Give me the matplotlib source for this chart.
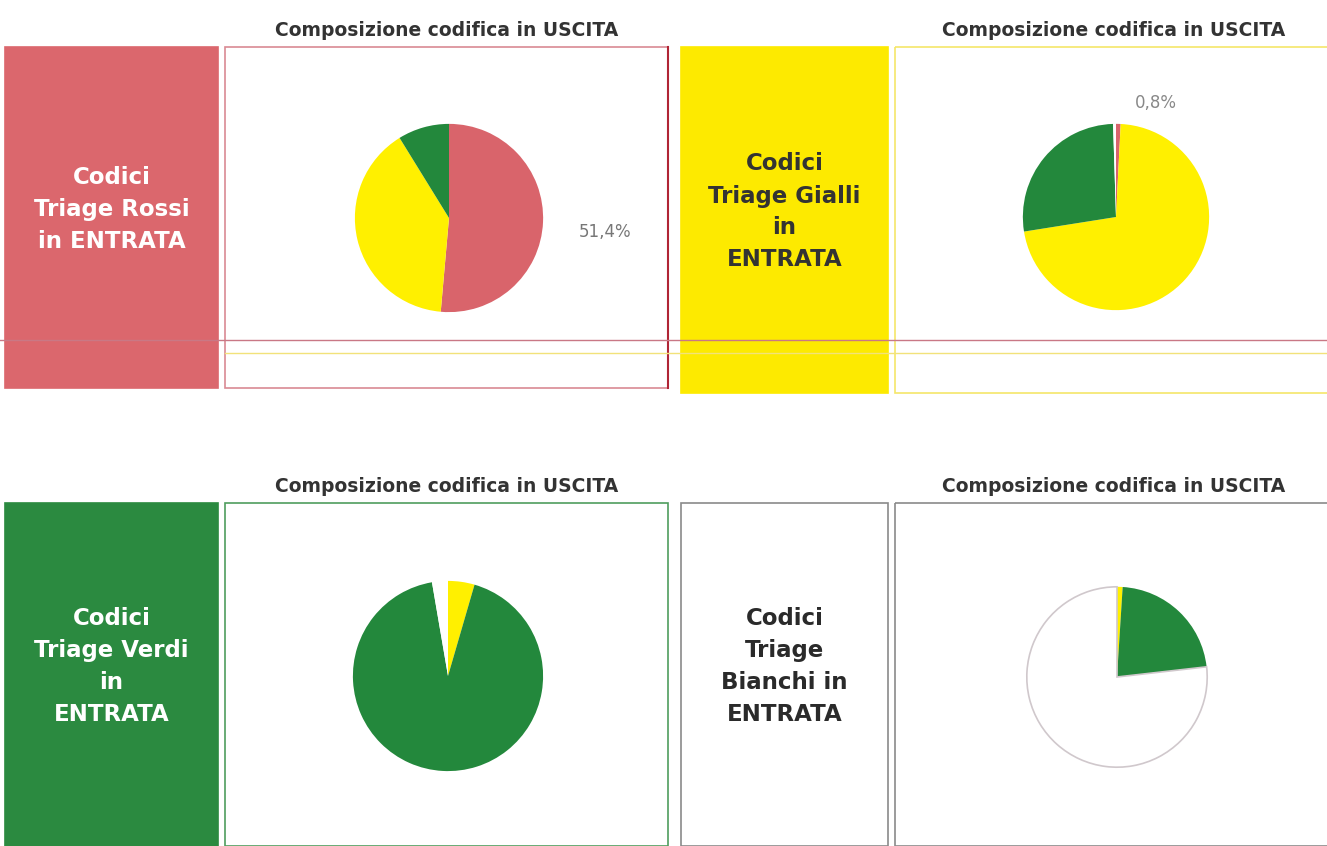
#Composizione codifica in USCITA per codice triage in ENTRATA
#4 pannelli: riquadro colorato + torta

import matplotlib.pyplot as plt
from matplotlib.patches import Rectangle

#dati (quote % in uscita: rosso, giallo, verde, bianco)
labels_uscita = ['Rosso', 'Giallo', 'Verde', 'Bianco']
rossi = [51.4, 39.8, 8.8, 0.0]
gialli = [0.8, 71.7, 27.0, 0.5]
verdi = [0.0, 4.5, 92.8, 2.7]
bianchi = [0.0, 1.0, 22.2, 76.8]

entrata = ['Codici\nTriage Rossi\nin ENTRATA',
           'Codici\nTriage Gialli\nin\nENTRATA',
           'Codici\nTriage Verdi\nin\nENTRATA',
           'Codici\nTriage\nBianchi in\nENTRATA']
titolo = 'Composizione codifica in USCITA'

#colori
c_rosso = '#db676d'
c_giallo = '#fdea00'
c_verde = '#2b8a40'
c_bianco = '#ffffff'
pie_colors = ['#d9646b', '#fff000', '#23883c', '#ffffff']

W, H = 1327, 846
fig = plt.figure(figsize=(W / 100, H / 100), dpi=100)
bg = fig.add_axes([0, 0, 1, 1])
bg.set_xlim(0, W)
bg.set_ylim(H, 0)
bg.axis('off')

#pannelli: (x box, y, w, h, colore box, colore testo, bordo torta, centro torta, raggio)
pannelli = [
    (5, 47, 213, 341, c_rosso, 'white', '#d98a94', (449, 218), 96),
    (681, 47, 207, 346, c_giallo, '#333333', '#f5e66a', (1116, 217), 95),
    (5, 503, 213, 343, c_verde, 'white', '#4f9d5e', (448, 676), 97),
    (681, 503, 207, 343, c_bianco, '#2a2a2a', '#8a8a8a', (1117, 677), 92),
]
dati = [rossi, gialli, verdi, bianchi]

for k, (x, y, w, h, col, tcol, bcol, centro, r) in enumerate(pannelli):
    #riquadro colorato in entrata
    ec = '#8a8a8a' if col == c_bianco else col
    bg.add_patch(Rectangle((x, y), w, h, facecolor=col, edgecolor=ec, lw=1.2))
    bg.text(x + w / 2, y + h / 2 - 8, entrata[k], color=tcol, fontsize=16.5,
            fontweight='bold', ha='center', va='center', linespacing=1.5)

    #riquadro del grafico
    bx = x + w + 7
    bw = 668 - bx if k % 2 == 0 else W - bx + 5
    bg.add_patch(Rectangle((bx, y), bw, h, facecolor='none', edgecolor=bcol, lw=1.2))
    bg.text(bx + (bw if k % 2 == 0 else 437) / 2, y - 17, titolo, color='#333333',
            fontsize=13.5, fontweight='bold', ha='center', va='center')

    #torta
    cx, cy = centro
    ax = fig.add_axes([(cx - r) / W, 1 - (cy + r) / H, 2 * r / W, 2 * r / H])
    wedges, _ = ax.pie(dati[k], colors=pie_colors, startangle=90, counterclock=False,
                       wedgeprops=dict(linewidth=0))
    if k == 3:
        wedges[3].set_edgecolor('#d0c8cc')
        wedges[3].set_linewidth(1.2)
    ax.set_xlim(-1.02, 1.02)
    ax.set_ylim(-1.02, 1.02)

#bordo destro piu' scuro del primo riquadro
bg.plot([668, 668], [47, 388], color='#b02535', lw=1.5)

#linee della tabella sottostante
bg.plot([0, W], [340, 340], color='#c97885', lw=1)
bg.plot([225, W], [353, 353], color='#f2e27a', lw=1)

#etichette percentuali
bg.text(605, 232, '51,4%', color='#777777', fontsize=12, ha='center', va='center')
bg.text(1156, 103, '0,8%', color='#888888', fontsize=12, ha='center', va='center')

fig.savefig('out.png', dpi=100)
